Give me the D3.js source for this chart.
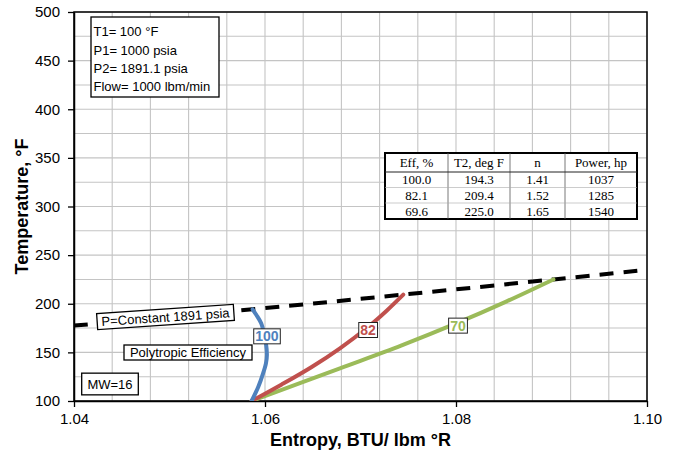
<!DOCTYPE html>
<html>
<head>
<meta charset="utf-8">
<script src="https://cdn.jsdelivr.net/npm/d3@7"></script>
<style>
  html, body { margin: 0; padding: 0; background: #fff; }
  svg { display: block; font-family: "Liberation Sans", Arial, sans-serif; }
</style>
</head>
<body>
<svg id="chart" width="675" height="451"></svg>
<script>
// Compression paths on a temperature–entropy diagram
const xTicks = [1.04, 1.06, 1.08, 1.10];
const yTicks = [100, 150, 200, 250, 300, 350, 400, 450, 500];

// Isentropic (100 %) path: [entropy, temperature]
const path100 = [
  [1.0586, 100], [1.0593, 114.7], [1.0598, 128.5], [1.0601, 138.8],
  [1.0602, 147.3], [1.0601, 159.3], [1.0599, 169.6], [1.0596, 179.9],
  [1.0591, 188.4], [1.0587, 194.3]
];
// Polytropic 82 % path
const path82 = [
  [1.0586, 100], [1.06175, 117.0], [1.06489, 135.0], [1.06785, 154.2],
  [1.07082, 176.4], [1.07274, 192.9], [1.07448, 209.4]
];
// Polytropic 70 % path
const path70 = [
  [1.0586, 100], [1.06785, 133.6], [1.07431, 157.2], [1.08007, 180.0],
  [1.08531, 202.5], [1.0902, 225.0]
];
// Discharge isobar, 1891 psia
const isobar = [
  [1.04, 177.5], [1.0587, 194.3], [1.07448, 209.4], [1.0902, 225.0], [1.10, 235]
];

// Curve tags: label text, entropy and temperature of the tag centre
const curveTags = [
  { text: "100", s: 1.0602, t: 166.5, color: "#4F81BD" },
  { text: "82",  s: 1.07079, t: 173, color: "#C0504D" },
  { text: "70",  s: 1.0802, t: 177.5, color: "#9BBB59" }
];

const conditions = ["T1= 100 °F", "P1= 1000 psia", "P2= 1891.1 psia", "Flow= 1000 lbm/min"];

const tableHeader = ["Eff, %", "T2, deg F", "n", "Power, hp"];
const tableRows = [
  ["100.0", "194.3", "1.41", "1037"],
  ["82.1", "209.4", "1.52", "1285"],
  ["69.6", "225.0", "1.65", "1540"]
];

const W = 675, H = 451;
const margin = { left: 74, right: 28, top: 12, bottom: 50 };
const pw = W - margin.left - margin.right;
const ph = H - margin.top - margin.bottom;

const svg = d3.select("#chart");
const g = svg.append("g").attr("transform", `translate(${margin.left},${margin.top})`);

const x = d3.scaleLinear().domain([1.04, 1.10]).range([0, pw]);
const y = d3.scaleLinear().domain([100, 500]).range([ph, 0]);

// Gridlines: every 0.004 in entropy, every 25 °F
const xGrid = d3.range(0, 16).map(i => 1.04 + i * 0.004);
const yGrid = d3.range(0, 17).map(i => 100 + i * 25);
g.append("g").selectAll("line").data(xGrid).join("line")
  .attr("x1", d => x(d)).attr("x2", d => x(d))
  .attr("y1", 0).attr("y2", ph)
  .attr("stroke", "#c4c4c4").attr("stroke-width", 1.1);
g.append("g").selectAll("line").data(yGrid).join("line")
  .attr("x1", 0).attr("x2", pw)
  .attr("y1", d => y(d)).attr("y2", d => y(d))
  .attr("stroke", "#c4c4c4").attr("stroke-width", 1.1);

// Plot frame
g.append("rect").attr("x", 0).attr("y", 0).attr("width", pw).attr("height", ph)
  .attr("fill", "none").attr("stroke", "#000").attr("stroke-width", 1.5);

// Axes
const xAxis = g.append("g").attr("transform", `translate(0,${ph})`)
  .call(d3.axisBottom(x).tickValues(xTicks).tickFormat(d3.format(".2f"))
    .tickSize(6).tickPadding(3).tickSizeOuter(0));
const yAxis = g.append("g")
  .call(d3.axisLeft(y).tickValues(yTicks).tickFormat(d3.format("d"))
    .tickSize(6).tickPadding(8).tickSizeOuter(0));
[xAxis, yAxis].forEach(a => {
  a.select(".domain").attr("stroke", "#000").attr("stroke-width", 1.5);
  a.selectAll(".tick line").attr("stroke", "#000").attr("stroke-width", 1.3);
  a.selectAll(".tick text").attr("fill", "#000").style("font-size", "15px")
    .style("font-family", "'Liberation Sans', Arial, sans-serif");
});
xAxis.selectAll(".tick text").attr("dy", "0.95em");

// Axis titles
svg.append("text").attr("x", margin.left + pw / 2).attr("y", 446)
  .attr("text-anchor", "middle").style("font-size", "18px").style("font-weight", "bold")
  .text("Entropy, BTU/ lbm °R");
svg.append("text")
  .attr("transform", `translate(28,${margin.top + ph / 2}) rotate(-90)`)
  .attr("text-anchor", "middle").style("font-size", "18px").style("font-weight", "bold")
  .text("Temperature, °F");

// Clip for curves
svg.append("defs").append("clipPath").attr("id", "plotClip")
  .append("rect").attr("width", pw).attr("height", ph);
const curves = g.append("g").attr("clip-path", "url(#plotClip)");

const line = d3.line().x(d => x(d[0])).y(d => y(d[1])).curve(d3.curveCatmullRom.alpha(0.5));

curves.append("path").datum(isobar).attr("d", line)
  .attr("fill", "none").attr("stroke", "#000").attr("stroke-width", 4)
  .attr("stroke-dasharray", "14,10");
[[path70, "#9BBB59"], [path82, "#C0504D"], [path100, "#4F81BD"]].forEach(([data, c]) => {
  curves.append("path").datum(data).attr("d", line)
    .attr("fill", "none").attr("stroke", c).attr("stroke-width", 4)
    .attr("stroke-linecap", "round");
});

// Curve tags
curveTags.forEach(tag => {
  const tg = g.append("g").attr("transform", `translate(${x(tag.s)},${y(tag.t)})`);
  const t = tg.append("text").attr("text-anchor", "middle").attr("dy", "0.36em")
    .style("font-size", "14px").style("font-weight", "bold").attr("fill", tag.color)
    .text(tag.text);
  const bb = t.node().getBBox();
  tg.insert("rect", "text")
    .attr("x", bb.x - 1.5).attr("y", -7.5).attr("width", bb.width + 3).attr("height", 15)
    .attr("fill", "#fff").attr("stroke", "#222").attr("stroke-width", 1);
});

// Framed note: centre (cx, cy), box size (w, h), optional tilt in degrees
function note(text, cx, cy, w, h, angle) {
  const grp = svg.append("g").attr("transform", `translate(${cx},${cy}) rotate(${angle || 0})`);
  grp.append("rect").attr("x", -w / 2).attr("y", -h / 2).attr("width", w).attr("height", h)
    .attr("fill", "#fff").attr("stroke", "#000").attr("stroke-width", 1.3);
  grp.append("text").attr("text-anchor", "middle").attr("dy", "0.36em")
    .style("font-size", "13px").attr("fill", "#000").text(text);
}

// Operating conditions box
const cond = svg.append("g");
cond.append("rect").attr("x", 91).attr("y", 17).attr("width", 128).attr("height", 80)
  .attr("fill", "#fff").attr("stroke", "#000").attr("stroke-width", 1.3);
cond.selectAll("text").data(conditions).join("text")
  .attr("x", 93.5).attr("y", (d, i) => 36.4 + i * 18.1)
  .style("font-size", "13px").attr("fill", "#000").text(d => d);

note("P=Constant 1891 psia", 165.5, 317, 137, 16, -3.9);
note("Polytropic Efficiency", 188, 352.5, 128, 15);
note("MW=16", 110, 384, 56.6, 21.7);

// Results table
const colEdges = [385, 448, 510, 565, 637];
const rowEdges = [153, 172, 187.5, 203, 219];
const tbl = svg.append("g");
tbl.append("rect").attr("x", colEdges[0]).attr("y", rowEdges[0])
  .attr("width", colEdges[4] - colEdges[0]).attr("height", rowEdges[4] - rowEdges[0])
  .attr("fill", "#fff").attr("stroke", "#000").attr("stroke-width", 2);
colEdges.slice(1, 4).forEach(cx => {
  tbl.append("line").attr("x1", cx).attr("x2", cx).attr("y1", rowEdges[0]).attr("y2", rowEdges[4])
    .attr("stroke", "#555").attr("stroke-width", 0.8);
});
rowEdges.slice(1, 4).forEach((ry, i) => {
  tbl.append("line").attr("x1", colEdges[0]).attr("x2", colEdges[4]).attr("y1", ry).attr("y2", ry)
    .attr("stroke", i === 0 ? "#222" : "#aaa").attr("stroke-width", i === 0 ? 1 : 0.6);
});
[tableHeader, ...tableRows].forEach((row, ri) => {
  row.forEach((cell, ci) => {
    tbl.append("text")
      .attr("x", (colEdges[ci] + colEdges[ci + 1]) / 2)
      .attr("y", (rowEdges[ri] + rowEdges[ri + 1]) / 2)
      .attr("dy", "0.35em").attr("text-anchor", "middle")
      .style("font-family", "'Liberation Serif', 'Times New Roman', serif")
      .style("font-size", "13px").attr("fill", "#000").text(cell);
  });
});
</script>
</body>
</html>
